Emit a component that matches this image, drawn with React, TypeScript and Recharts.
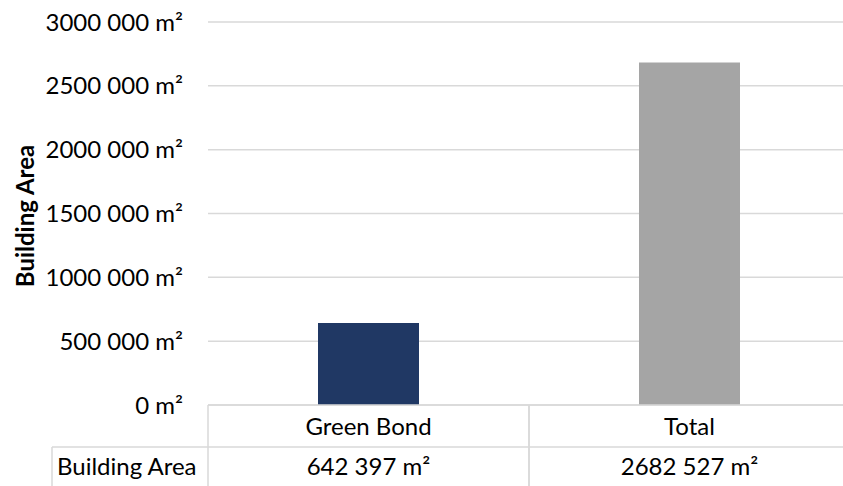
import { Bar, BarChart, CartesianGrid, Cell, XAxis, YAxis } from "recharts";

const categories = ["Green Bond", "Total"];
const buildingArea = [642397, 2682527];
const yTicks = [0, 500000, 1000000, 1500000, 2000000, 2500000, 3000000];
const seriesName = "Building Area";
const barColors = ["#203864", "#A5A5A5"];

const data = categories.map((name, i) => ({ name, area: buildingArea[i] }));

const CHART_W = 880;
const CHART_H = 486;
const Y_AXIS_W = 208;
const MARGIN_RIGHT = 30;
const PLOT_W = CHART_W - Y_AXIS_W - MARGIN_RIGHT;
const FONT = "Lato, 'Open Sans', sans-serif";
const FONT_SIZE = 24;
const BORDER = "#D9D9D9";

// "2682 527 m²" style: only the last group of three is split off
function fmt(n: number) {
  const s = String(n);
  const body = s.length > 3 ? s.slice(0, -3) + " " + s.slice(-3) : s;
  return body + " m²";
}

// x axis tick drawn as an Excel-like data table column
function TableTick(props: any) {
  const { x, y, payload, index } = props;
  const half = PLOT_W / 4;
  const rowH = 42;
  return (
    <g>
      <line x1={x - half} y1={y} x2={x - half} y2={y + 120} stroke={BORDER} strokeWidth={1.5} />
      <line x1={x + half} y1={y} x2={x + half} y2={y + 120} stroke={BORDER} strokeWidth={1.5} />
      <line x1={x - half} y1={y + rowH} x2={x + half} y2={y + rowH} stroke={BORDER} strokeWidth={1.5} />
      <text x={x} y={y + 30} textAnchor="middle" fontSize={FONT_SIZE} fill="#000">
        {payload.value}
      </text>
      <text x={x} y={y + 70} textAnchor="middle" fontSize={FONT_SIZE} fill="#000">
        {fmt(buildingArea[index])}
      </text>
      {index === 0 && (
        <g>
          <line x1={52} y1={y + rowH} x2={x - half} y2={y + rowH} stroke={BORDER} strokeWidth={1.5} />
          <line x1={52} y1={y + rowH} x2={52} y2={y + 120} stroke={BORDER} strokeWidth={1.5} />
          <text x={57} y={y + 70} textAnchor="start" fontSize={FONT_SIZE} fill="#000">
            {seriesName}
          </text>
        </g>
      )}
    </g>
  );
}

export default function App() {
  return (
    <div
      style={{
        position: "absolute",
        left: 0,
        top: 0,
        width: 843,
        height: 486,
        overflow: "hidden",
        background: "#fff",
        fontFamily: FONT,
      }}
    >
      <BarChart
        width={CHART_W}
        height={CHART_H}
        data={data}
        margin={{ top: 22, right: MARGIN_RIGHT, left: 0, bottom: 0 }}
      >
        <CartesianGrid vertical={false} stroke={BORDER} strokeWidth={1.5} />
        <XAxis
          dataKey="name"
          height={81}
          interval={0}
          tickLine={false}
          tickSize={0}
          tickMargin={0}
          axisLine={{ stroke: BORDER, strokeWidth: 1.5 }}
          tick={<TableTick />}
        />
        <YAxis
          width={Y_AXIS_W}
          domain={[0, 3000000]}
          ticks={yTicks}
          interval={0}
          axisLine={false}
          tickLine={false}
          tickSize={0}
          tickMargin={25}
          tickFormatter={fmt}
          tick={{ fill: "#000", fontSize: FONT_SIZE }}
          label={{
            content: () => (
              <text
                x={24}
                y={216}
                transform="rotate(-90, 24, 216)"
                textAnchor="middle"
                dominantBaseline="central"
                fontSize={FONT_SIZE}
                fontWeight="bold"
                fill="#000"
              >
                {seriesName}
              </text>
            ),
          }}
        />
        <Bar dataKey="area" barSize={101} isAnimationActive={false}>
          {data.map((d, i) => (
            <Cell key={d.name} fill={barColors[i]} />
          ))}
        </Bar>
      </BarChart>
    </div>
  );
}
